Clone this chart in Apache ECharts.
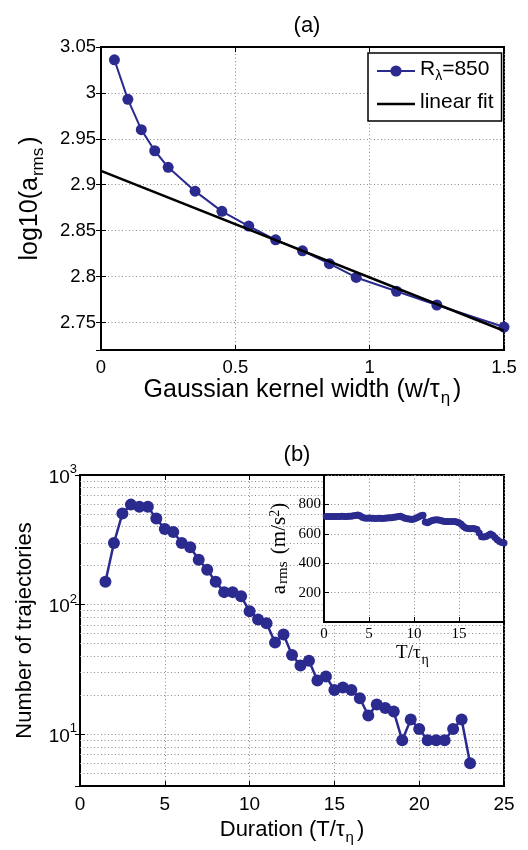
<!DOCTYPE html>
<html><head><meta charset="utf-8">
<script src="https://cdn.jsdelivr.net/npm/echarts@6/dist/echarts.min.js"></script>
<style>html,body{margin:0;padding:0;background:#fff}#c{width:528px;height:850px}</style>
</head><body><div id="c"></div>
<script>
// ---- Panel (a) data ----
const kernelWidth = [0.05,0.1,0.15,0.2,0.25,0.35,0.45,0.55,0.65,0.75,0.85,0.95,1.1,1.25,1.5];
const logArms = [3.036,2.993,2.960,2.937,2.919,2.893,2.871,2.855,2.840,2.828,2.814,2.799,2.784,2.769,2.745];
const fitWidth = [0, 1.5];
const fitLogArms = [2.915, 2.741];

// ---- Panel (b) data ----
const duration = [1.5,2,2.5,3,3.5,4,4.5,5,5.5,6,6.5,7,7.5,8,8.5,9,9.5,10,10.5,11,11.5,12,12.5,13,13.5,14,14.5,15,15.5,16,16.5,17,17.5,18,18.5,19,19.5,20,20.5,21,21.5,22,22.5,23];
const trajCount = [150,299,504,591,568,568,461,384,364,299,277,222,186,150,125,125,116,89,77,72,51,59,41,34,37,26,28,22,23,22,19,14,17,16,15,9,13,11,9,9,9,11,13,6];
const logMinorGrid = [5,6,7,8,9,20,30,40,50,60,70,80,90,200,300,400,500,600,700,800,900];

// ---- Inset data ----
const insetT = [0.25,0.5,0.75,1,1.25,1.5,1.75,2,2.25,2.5,2.75,3,3.25,3.5,3.75,4,4.25,4.5,4.75,5,5.25,5.5,5.75,6,6.25,6.5,6.75,7,7.25,7.5,7.75,8,8.25,8.5,8.75,9,9.25,9.5,9.75,10,10.25,10.5,10.75,11,11.25,11.5,11.75,12,12.25,12.5,12.75,13,13.25,13.5,13.75,14,14.25,14.5,14.75,15,15.25,15.5,15.75,16,16.25,16.5,16.75,17,17.25,17.5,17.75,18,18.25,18.5,18.75,19,19.25,19.5,19.75,20];
const insetArms = [718,718,717,718,718,717,718,719,718,717,719,720,722,725,728,722,712,708,706,707,705,706,704,705,706,704,706,708,709,710,712,715,718,720,712,706,703,700,698,700,708,715,722,726,680,676,684,690,694,696,694,690,686,684,684,683,684,683,680,675,665,650,640,636,635,636,634,630,605,580,578,582,590,598,590,575,560,548,540,538];

const F = '"Liberation Sans", Arial, Helvetica, sans-serif';
const SERIF = '"Liberation Serif", "Times New Roman", serif';
const BLUE = '#2b2b8f';
const dotted = {color:'#8c8c8c', width:1, type:[1,2.5]};
const axisLineS = {show:true, lineStyle:{color:'#000', width:2}};
const tickIn = {show:true, inside:true, length:5, lineStyle:{color:'#000', width:1}};
const lineOnlyIcon = 'path://M0,0L0.01,0L0.01,0.01Z M0,5.7L38,5.7L38,8.3L0,8.3Z M0,14L0.01,14L0.01,13.99Z';

function subRich(size, subSize, family, pad){
  return {
    n:{fontSize:size, fontFamily:family, color:'#000', lineHeight:size+4, verticalAlign:'top', padding:[0,0,pad,0]},
    s:{fontSize:subSize, fontFamily:family, color:'#000', lineHeight:subSize, verticalAlign:'bottom', padding:[0,3,0,1]}
  };
}

const chart = echarts.init(document.getElementById('c'));
const option = {
  animation:false,
  backgroundColor:'#fff',
  title:[
    {text:'(a)', left:302, top:10, textAlign:'center', textStyle:{fontFamily:F, fontSize:22, fontWeight:'normal', color:'#000'}},
    {text:'(b)', left:292, top:439, textAlign:'center', textStyle:{fontFamily:F, fontSize:22, fontWeight:'normal', color:'#000'}}
  ],
  legend:{
    data:['R850', {name:'linear fit', icon:lineOnlyIcon}], orient:'vertical', left:368, top:53,
    backgroundColor:'#fff', borderColor:'#000', borderWidth:1.5, borderRadius:0,
    padding:[6,8,5,8], itemGap:9, itemWidth:38, itemHeight:14,
    textStyle:{fontFamily:F, fontSize:21, color:'#000',
      rich:{n:{fontFamily:F, fontSize:21, color:'#000', lineHeight:24, verticalAlign:'top', padding:[0,0,3,0]},
            s:{fontFamily:F, fontSize:14, color:'#000', lineHeight:14, verticalAlign:'bottom'}}},
    formatter:function(name){ return name==='R850' ? '{n|R}{s|λ}{n|=850}' : '{n|linear fit}'; }
  },
  grid:[
    {left:101, top:47, width:403, height:303, show:true, borderColor:'#000', borderWidth:2, containLabel:false},
    {left:80, top:475, width:424, height:311, show:true, borderColor:'#000', borderWidth:2, containLabel:false},
    {left:324, top:475, width:180, height:147, show:true, backgroundColor:'#fff', borderColor:'#000', borderWidth:2, z:10, containLabel:false}
  ],
  xAxis:[
    {gridIndex:0, type:'value', min:0, max:1.5, interval:0.5, position:'bottom',
     axisLine:axisLineS, axisTick:tickIn, splitLine:{show:true, lineStyle:dotted},
     axisLabel:{fontFamily:F, fontSize:18.5, color:'#000', margin:8, formatter:v=>String(+v.toFixed(2))},
     name:'{n|Gaussian kernel width (w/τ}{s|η}{n|)}', nameLocation:'middle', nameGap:26,
     nameTextStyle:{fontFamily:F, fontSize:25, color:'#000', rich:subRich(25,17,F,4)}},
    {gridIndex:0, type:'value', min:0, max:1.5, interval:0.5, position:'top',
     axisLine:axisLineS, axisTick:tickIn, axisLabel:{show:false}, splitLine:{show:false}},
    {gridIndex:1, type:'value', min:0, max:25, interval:5, position:'bottom',
     axisLine:axisLineS, axisTick:tickIn, splitLine:{show:true, lineStyle:dotted},
     axisLabel:{fontFamily:F, fontSize:19, color:'#000', margin:9},
     name:'{n|Duration (T/τ}{s|η}{n|)}', nameLocation:'middle', nameGap:33,
     nameTextStyle:{fontFamily:F, fontSize:22, color:'#000', rich:subRich(22,15,F,4)}},
    {gridIndex:1, type:'value', min:0, max:25, interval:5, position:'top',
     axisLine:axisLineS, axisTick:tickIn, axisLabel:{show:false}, splitLine:{show:false}},
    {gridIndex:2, type:'value', min:0, max:20, interval:5, position:'bottom', z:11,
     axisLine:axisLineS, axisTick:tickIn, splitLine:{show:true, lineStyle:dotted},
     axisLabel:{fontFamily:SERIF, fontSize:15, color:'#000', margin:5, showMaxLabel:false},
     name:'{n|T/τ}{s|η}', nameLocation:'middle', nameGap:22,
     nameTextStyle:{fontFamily:SERIF, fontSize:19, color:'#000', rich:subRich(19,14,SERIF,3)}}
  ],
  yAxis:[
    {gridIndex:0, type:'value', min:2.72, max:3.05, splitNumber:7, position:'left',
     axisLine:axisLineS, axisTick:tickIn, splitLine:{show:true, lineStyle:dotted},
     axisLabel:{fontFamily:F, fontSize:18.5, color:'#000', margin:5, showMinLabel:false, formatter:v=>String(+v.toFixed(2))},
     name:'{n|log10(a}{s|rms}{n|)}', nameLocation:'middle', nameGap:54,
     nameTextStyle:{fontFamily:F, fontSize:25, color:'#000', rich:subRich(25,17,F,4)}},
    {gridIndex:0, type:'value', min:2.72, max:3.05, splitNumber:7, position:'right',
     axisLine:axisLineS, axisTick:tickIn, axisLabel:{show:false}, splitLine:{show:false}},
    {gridIndex:1, type:'log', logBase:10, min:4, max:1000, position:'left',
     axisLine:axisLineS, axisTick:tickIn, splitLine:{show:true, lineStyle:dotted},
     axisLabel:{fontFamily:F, fontSize:19, color:'#000', margin:3, showMinLabel:false,
       formatter:function(v){ const e=Math.log10(v); const r=Math.round(e); return Math.abs(e-r)<1e-6 ? '{b|10}{p|'+r+'}' : ''; },
       rich:{b:{fontFamily:F, fontSize:19, color:'#000', lineHeight:24, verticalAlign:'bottom'},
             p:{fontFamily:F, fontSize:13, color:'#000', lineHeight:13, verticalAlign:'top'}}},
     name:'Number of trajectories', nameLocation:'middle', nameGap:44,
     nameTextStyle:{fontFamily:F, fontSize:22, color:'#000'}},
    {gridIndex:1, type:'log', logBase:10, min:4, max:1000, position:'right',
     axisLine:axisLineS, axisTick:tickIn, axisLabel:{show:false}, splitLine:{show:false}},
    {gridIndex:2, type:'value', min:0, max:1000, interval:200, position:'left', z:11,
     axisLine:axisLineS, axisTick:tickIn, splitLine:{show:true, lineStyle:dotted},
     axisLabel:{fontFamily:SERIF, fontSize:15, color:'#000', margin:3, showMinLabel:false, showMaxLabel:false},
     name:'{n|a}{s|rms}{n| (m/s}{p|2}{n|)}', nameLocation:'middle', nameGap:25,
     nameTextStyle:{fontFamily:SERIF, fontSize:21, color:'#000',
       rich:{n:{fontFamily:SERIF, fontSize:21, color:'#000', lineHeight:22, verticalAlign:'middle', padding:[5,0,5,0]},
             s:{fontFamily:SERIF, fontSize:15, color:'#000', lineHeight:15, verticalAlign:'bottom', padding:[0,2,0,1]},
             p:{fontFamily:SERIF, fontSize:14, color:'#000', lineHeight:14, verticalAlign:'top'}}}}
  ],
  series:[
    {name:'R850', type:'line', xAxisIndex:0, yAxisIndex:0, z:3,
     data:kernelWidth.map((w,i)=>[w, logArms[i]]),
     symbol:'circle', symbolSize:11, itemStyle:{color:BLUE}, lineStyle:{color:BLUE, width:2}},
    {name:'linear fit', type:'line', xAxisIndex:0, yAxisIndex:0, z:4,
     data:fitWidth.map((w,i)=>[w, fitLogArms[i]]),
     symbol:'none', itemStyle:{color:'#000'}, lineStyle:{color:'#000', width:2.5}},
    {name:'count', type:'line', xAxisIndex:2, yAxisIndex:2, z:3,
     data:duration.map((d,i)=>[d, trajCount[i]]),
     symbol:'circle', symbolSize:12, itemStyle:{color:BLUE}, lineStyle:{color:BLUE, width:2.5},
     markLine:{silent:true, symbol:['none','none'], label:{show:false}, z:1,
       lineStyle:dotted, emphasis:{disabled:true},
       data:logMinorGrid.map(v=>({yAxis:v}))}},
    {name:'inset', type:'line', xAxisIndex:4, yAxisIndex:4, z:12,
     data:insetT.map((t,i)=>[t, insetArms[i]]),
     symbol:'circle', symbolSize:7, itemStyle:{color:BLUE}, lineStyle:{color:BLUE, width:2.5}}
  ]
};
chart.setOption(option);
</script>
</body></html>
